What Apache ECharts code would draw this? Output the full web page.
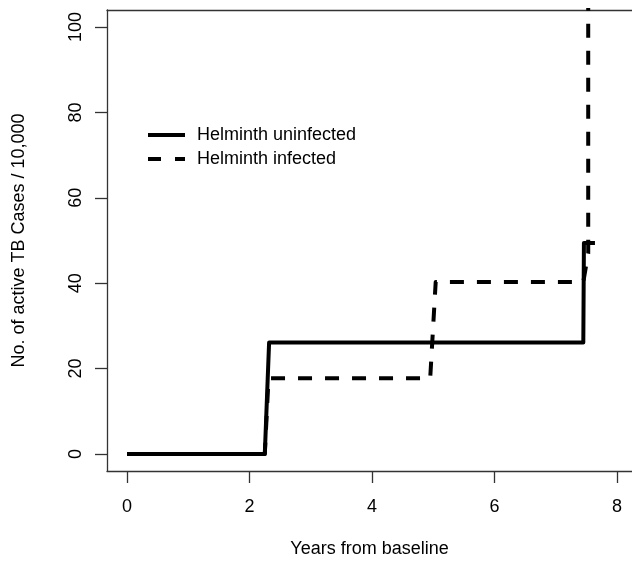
<!DOCTYPE html>
<html>
<head>
<meta charset="utf-8">
<script src="https://cdn.jsdelivr.net/npm/echarts@6/dist/echarts.min.js"></script>
<style>
html,body{margin:0;padding:0;background:#fff;}
#c{width:632px;height:563px;}
</style>
</head>
<body>
<div id="c"></div>
<script>
var seriesNames = ['Helminth uninfected', 'Helminth infected'];
var uninfectedX = [0, 2.25, 2.32, 7.45, 7.46, 7.64];
var uninfectedY = [0, 0, 26.1, 26.1, 49.4, 49.4];
var infectedX = [0, 2.25, 2.31, 4.95, 5.04, 7.45, 7.53, 7.53];
var infectedY = [0, 0, 17.7, 17.7, 40.3, 40.3, 47, 130];
var xTicks = [0, 2, 4, 6, 8];
var yTicks = [0, 20, 40, 60, 80, 100];
var xTitle = 'Years from baseline';
var yTitle = 'No. of active TB Cases / 10,000';

function pairs(xs, ys){ return xs.map(function(x,i){ return [x, ys[i]]; }); }

var FONT = 'Liberation Sans, Arial, Helvetica, sans-serif';
var XMIN = -20/61.25, XMAX = -20/61.25 + 525/61.25;
var axisLineStyle = {color:'#333', width:1.3};
var chart = echarts.init(document.getElementById('c'), null, {renderer:'canvas'});
chart.setOption({
  animation:false,
  backgroundColor:'#fff',
  textStyle:{fontFamily:FONT},
  grid:{left:107, top:10, right:0, bottom:90, show:false, containLabel:false},
  legend:{
    data:[
      {name:seriesNames[0], icon:'path://M0,0h37v4h-37z'},
      {name:seriesNames[1], icon:'path://M0,0h13v4h-13zM27,0h10v4h-10z'}
    ],
    orient:'vertical',
    left:143, top:120,
    itemWidth:37, itemHeight:4, itemGap:4,
    itemStyle:{color:'#000'},
    textStyle:{fontSize:18, color:'#000', fontFamily:FONT, lineHeight:20, padding:[0,0,0,7]}
  },
  xAxis:[{
    type:'value', min:XMIN, max:XMAX, position:'bottom',
    name:xTitle, nameLocation:'middle', nameGap:69,
    nameTextStyle:{fontSize:18, color:'#000', fontFamily:FONT},
    axisLine:{show:true, onZero:false, lineStyle:axisLineStyle},
    axisTick:{show:true, customValues:xTicks, length:12, inside:false, lineStyle:axisLineStyle},
    axisLabel:{customValues:xTicks, fontSize:18, color:'#000', margin:27, fontFamily:FONT},
    splitLine:{show:false}
  },{
    type:'value', min:XMIN, max:XMAX, position:'top',
    axisLine:{show:true, onZero:false, lineStyle:axisLineStyle},
    axisTick:{show:false}, axisLabel:{show:false}, splitLine:{show:false}
  }],
  yAxis:{
    type:'value', min:-4, max:104, position:'left',
    name:yTitle, nameLocation:'middle', nameGap:79, nameRotate:90,
    nameTextStyle:{fontSize:18, color:'#000', fontFamily:FONT},
    axisLine:{show:true, onZero:false, lineStyle:axisLineStyle},
    axisTick:{show:true, customValues:yTicks, length:12, inside:false, lineStyle:axisLineStyle},
    axisLabel:{customValues:yTicks, fontSize:18, color:'#000', margin:22, rotate:90, fontFamily:FONT},
    splitLine:{show:false}
  },
  series:[
    {name:seriesNames[0], type:'line', data:pairs(uninfectedX, uninfectedY), symbol:'none', showSymbol:false, clip:true,
     lineStyle:{color:'#000', width:4, type:'solid', join:'round'}, itemStyle:{color:'#000'}},
    {name:seriesNames[1], type:'line', data:pairs(infectedX, infectedY), symbol:'none', showSymbol:false, clip:true,
     lineStyle:{color:'#000', width:4, type:[14,13], join:'round'}, itemStyle:{color:'#000'}}
  ]
});
</script>
</body>
</html>
